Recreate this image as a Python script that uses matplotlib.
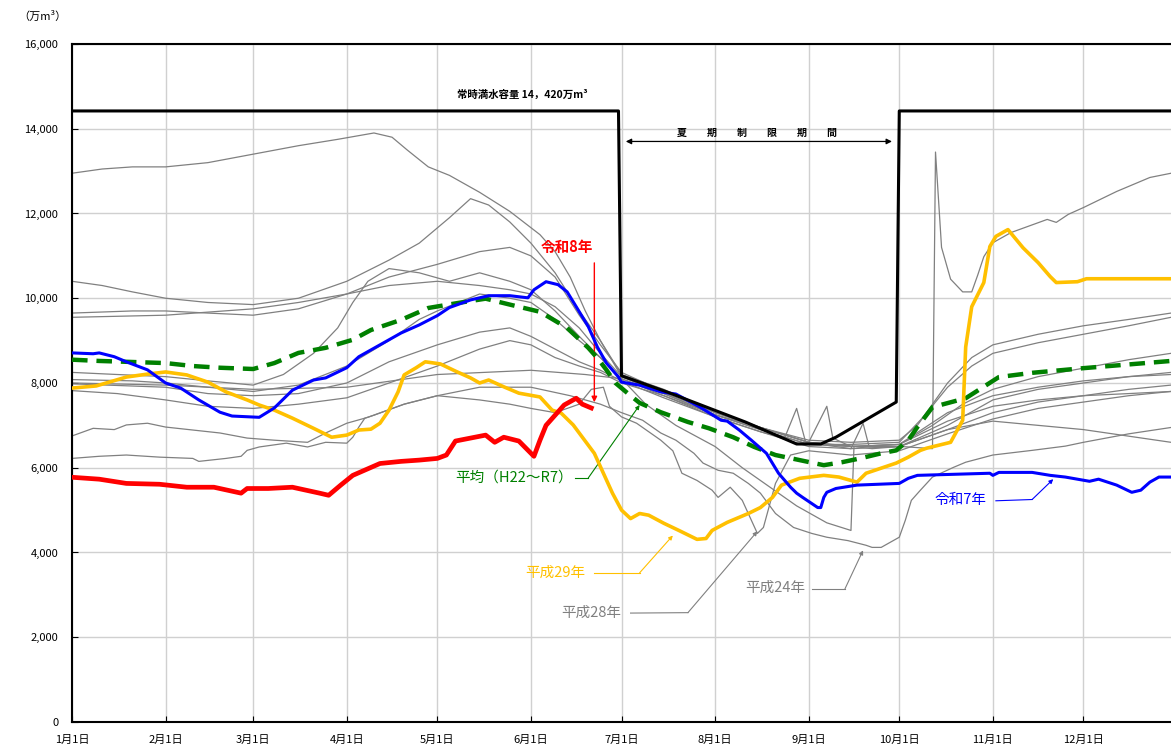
import matplotlib
matplotlib.use("Agg")
import matplotlib.pyplot as plt

plt.rcParams['font.family'] = ['Noto Sans CJK JP', 'DejaVu Sans']

# day of year (leap-year calendar, 1/1 = 0)
month_days = [0, 31, 60, 91, 121, 152, 182, 213, 244, 274, 305, 335]
month_labels = ["1月1日", "2月1日", "3月1日", "4月1日", "5月1日", "6月1日",
                "7月1日", "8月1日", "9月1日", "10月1日", "11月1日", "12月1日"]

# 常時満水容量 / 夏期制限容量
limit_day = [0, 181, 182, 197, 223, 240, 248, 253, 273, 274, 364]
limit_val = [14420, 14420, 8170, 7790, 7080, 6560, 6560, 6720, 7550, 14420, 14420]

# 平均 (H22～R7)
avg_day = [0, 9, 18, 31, 40, 49, 60, 67, 75, 84, 93, 99, 109, 118, 128, 137, 145, 155,
           164, 171, 174, 177, 180, 184, 188, 195, 204, 211, 219, 226, 233, 241, 249,
           255, 261, 268, 273, 277, 280, 285, 296, 307, 318, 335, 364]
avg_val = [8550, 8520, 8500, 8470, 8400, 8360, 8330, 8470, 8710, 8830, 9020, 9250, 9490,
           9770, 9890, 9990, 9850, 9680, 9300, 8830, 8590, 8310, 8000, 7760, 7530, 7310,
           7080, 6930, 6720, 6490, 6300, 6180, 6060, 6130, 6220, 6340, 6410, 6650, 6960,
           7430, 7640, 8140, 8240, 8350, 8520]

# 令和8年
r8_day = [0, 9, 18, 29, 38, 47, 56, 58, 65, 73, 82, 85, 89, 93, 102, 109, 115, 121, 124,
          127, 132, 137, 140, 143, 148, 153, 155, 157, 160, 163, 167, 169, 172]
r8_val = [5775, 5730, 5630, 5610, 5540, 5540, 5400, 5510, 5510, 5540, 5400, 5350, 5590,
          5820, 6100, 6150, 6180, 6220, 6300, 6630, 6700, 6770, 6600, 6720, 6630, 6270,
          6650, 7000, 7240, 7480, 7640, 7500, 7410]

# 令和7年
r7_day = [0, 7, 9, 14, 18, 25, 31, 36, 42, 49, 53, 62, 67, 73, 80, 84, 91, 95, 102, 109,
          115, 121, 125, 132, 138, 145, 151, 153, 157, 161, 164, 167, 171, 174, 177, 181,
          182, 188, 195, 200, 208, 215, 217, 221, 225, 230, 234, 238, 240, 242, 247, 248,
          249, 250, 253, 260, 267, 274, 277, 280, 304, 305, 307, 318, 324, 329, 337, 340,
          346, 351, 354, 357, 360, 364]
r7_val = [8710, 8690, 8710, 8620, 8500, 8310, 8000, 7880, 7600, 7310, 7220, 7190, 7410,
          7830, 8070, 8120, 8360, 8620, 8900, 9180, 9370, 9590, 9780, 9960, 10060, 10060,
          10010, 10200, 10390, 10320, 10150, 9800, 9330, 8850, 8470, 8140, 8020, 7950,
          7790, 7740, 7430, 7120, 7100, 6890, 6650, 6340, 5870, 5540, 5400, 5300, 5060,
          5060, 5300, 5420, 5510, 5590, 5610, 5630, 5750, 5820, 5870, 5820, 5890, 5890,
          5820, 5780, 5680, 5730, 5590, 5420, 5470, 5660, 5780, 5780]

# 平成29年
h29_day = [0, 8, 18, 25, 31, 38, 45, 51, 58, 62, 67, 73, 80, 86, 91, 95, 99, 102, 105,
           108, 110, 114, 117, 122, 127, 132, 135, 138, 143, 148, 155, 159, 162, 166, 173,
           176, 179, 182, 185, 188, 191, 196, 201, 207, 210, 212, 217, 224, 228, 232, 235,
           241, 249, 254, 260, 263, 268, 273, 277, 281, 283, 291, 295, 296, 298, 302, 304,
           306, 310, 315, 320, 324, 326, 333, 336, 364]
h29_val = [7880, 7930, 8140, 8210, 8260, 8190, 8020, 7790, 7600, 7480, 7360, 7170, 6930,
           6720, 6770, 6890, 6910, 7050, 7360, 7790, 8190, 8360, 8500, 8450, 8280, 8120,
           8000, 8070, 7910, 7760, 7670, 7360, 7290, 7010, 6340, 5870, 5400, 5000, 4800,
           4920, 4880, 4690, 4520, 4310, 4330, 4520, 4710, 4920, 5060, 5300, 5590, 5750,
           5820, 5780, 5660, 5870, 5990, 6110, 6250, 6410, 6460, 6600, 7120, 8850, 9800,
           10370, 11220, 11460, 11620, 11190, 10840, 10510, 10370, 10390, 10460, 10460]

# 平成28年
h28_day = [0, 7, 14, 18, 25, 31, 40, 49, 58, 67, 78, 84, 91, 98, 110, 121, 135, 145, 152,
           160, 168, 172, 176, 178, 182, 187, 195, 199, 202, 207, 212, 214, 218, 222, 227,
           229, 233, 238, 244, 258, 274, 290, 305, 320, 335, 350, 364]
h28_val = [6750, 6930, 6900, 7010, 7050, 6960, 6890, 6820, 6700, 6650, 6600, 6820, 7050,
           7190, 7500, 7700, 7600, 7500, 7400, 7300, 7500, 7850, 7900, 7450, 7200, 7050,
           6650, 6400, 5870, 5700, 5470, 5300, 5540, 5230, 4450, 4590, 5630, 6300, 6400,
           6300, 6400, 6800, 7150, 7400, 7550, 7700, 7800]

# 平成24年
h24_day = [0, 9, 18, 29, 40, 42, 51, 56, 58, 62, 71, 78, 84, 91, 93, 95, 97, 100, 110,
           121, 135, 152, 165, 175, 182, 189, 195, 200, 206, 209, 214, 219, 224, 228, 233,
           239, 245, 250, 257, 263, 265, 268, 272, 274, 276, 278, 281, 285, 292, 296, 305,
           318, 329, 335, 350, 364]
h24_val = [6220, 6270, 6300, 6250, 6220, 6150, 6220, 6270, 6410, 6490, 6580, 6490, 6600,
           6580, 6720, 6960, 7170, 7240, 7500, 7700, 7900, 7900, 7700, 7500, 7300, 7120,
           6820, 6650, 6340, 6110, 5940, 5870, 5630, 5400, 4920, 4590, 4450, 4360, 4280,
           4170, 4120, 4120, 4280, 4360, 4760, 5230, 5470, 5780, 6010, 6130, 6300, 6410,
           6510, 6600, 6800, 6950]

# その他の年
yr_a_day = [0, 10, 20, 31, 45, 60, 75, 88, 100, 106, 111, 118, 125, 135, 145, 155, 160,
            165, 170, 175, 182, 195, 213, 228, 244, 260, 275, 285, 286, 288, 291, 295, 298,
            300, 302, 305, 311, 323, 326, 330, 335, 346, 357, 364]
yr_a_val = [12950, 13050, 13100, 13100, 13200, 13400, 13600, 13750, 13900, 13800, 13500,
            13100, 12900, 12500, 12050, 11500, 11100, 10500, 9700, 9000, 8150, 7800, 7300,
            6950, 6600, 6500, 6500, 6450, 13450, 11200, 10450, 10150, 10150, 10550, 10980,
            11310, 11550, 11860, 11790, 11980, 12140, 12520, 12850, 12950]

yr_b_day = [0, 10, 20, 31, 45, 60, 75, 91, 105, 115, 125, 132, 138, 145, 152, 160, 168,
            175, 182, 196, 213, 228, 244, 258, 274, 285, 295, 305, 320, 335, 350, 364]
yr_b_val = [10400, 10300, 10150, 10000, 9900, 9850, 10000, 10400, 10900, 11300, 11900,
            12350, 12200, 11800, 11300, 10600, 9700, 9000, 8200, 7850, 7300, 6950, 6600,
            6500, 6550, 7000, 7500, 7850, 8150, 8350, 8550, 8700]

yr_c_day = [0, 20, 31, 45, 60, 75, 91, 105, 121, 135, 145, 152, 160, 168, 175, 182, 196,
            213, 228, 244, 258, 274, 280, 290, 298, 305, 320, 335, 350, 364]
yr_c_val = [9650, 9700, 9700, 9650, 9600, 9750, 10100, 10500, 10800, 11100, 11200, 11000,
            10500, 9600, 8900, 8250, 7800, 7350, 6950, 6650, 6600, 6650, 7000, 8000, 8600,
            8900, 9150, 9350, 9500, 9650]

yr_d_day = [0, 31, 60, 75, 91, 105, 121, 135, 145, 152, 160, 168, 175, 182, 196, 213, 228,
            244, 258, 274, 282, 290, 298, 305, 320, 335, 350, 364]
yr_d_val = [9550, 9600, 9750, 9900, 10100, 10300, 10400, 10300, 10200, 10100, 9800, 9300,
            8700, 8150, 7750, 7250, 6900, 6550, 6550, 6600, 7200, 7900, 8400, 8700, 8950,
            9150, 9350, 9550]

yr_e_day = [0, 15, 31, 45, 60, 70, 80, 88, 93, 98, 105, 115, 125, 135, 145, 152, 160, 168,
            175, 182, 196, 213, 228, 236, 240, 243, 258, 274, 290, 305, 320, 335, 350, 364]
yr_e_val = [8250, 8200, 8150, 8050, 7950, 8200, 8700, 9300, 9900, 10400, 10700, 10600,
            10400, 10600, 10400, 10200, 9700, 9100, 8600, 8100, 7700, 7200, 6850, 6700,
            7400, 6600, 6450, 6500, 7000, 7600, 7850, 8000, 8150, 8250]

yr_f_day = [0, 20, 31, 45, 60, 75, 91, 105, 115, 121, 135, 145, 152, 160, 168, 175, 182,
            196, 213, 228, 244, 250, 252, 258, 274, 290, 305, 320, 335, 350, 364]
yr_f_val = [8080, 8050, 8000, 7900, 7800, 7950, 8400, 9000, 9500, 9700, 10100, 10000, 9900,
            9500, 9000, 8600, 8100, 7750, 7250, 6950, 6600, 7450, 6700, 6500, 6550, 7300,
            7700, 7900, 8050, 8150, 8200]

yr_g_day = [0, 31, 45, 60, 75, 91, 105, 121, 135, 145, 152, 160, 168, 175, 182, 196, 213,
            228, 244, 258, 262, 264, 274, 290, 305, 320, 335, 350, 364]
yr_g_val = [7980, 7900, 7750, 7700, 7750, 8000, 8500, 8900, 9200, 9300, 9100, 8800, 8500,
            8300, 8050, 7650, 7200, 6850, 6500, 6450, 7050, 6500, 6500, 6900, 7300, 7550,
            7700, 7850, 7950]

yr_h_day = [0, 15, 31, 45, 60, 75, 91, 105, 121, 135, 145, 152, 160, 168, 175, 182, 196,
            213, 228, 244, 258, 274, 290, 305, 320, 335, 350, 364]
yr_h_val = [7820, 7750, 7600, 7450, 7400, 7500, 7650, 8000, 8400, 8800, 9000, 8900, 8600,
            8400, 8250, 8000, 7700, 7250, 6900, 6550, 6500, 6550, 7100, 7450, 7600, 7700,
            7750, 7800]

yr_i_day = [0, 31, 60, 91, 121, 152, 170, 182, 190, 200, 213, 222, 230, 240, 250, 258, 259,
            265, 274, 290, 305, 335, 364]
yr_i_val = [8000, 7950, 7850, 7900, 8200, 8300, 8200, 8100, 7500, 7000, 6500, 6000, 5600,
            5100, 4700, 4520, 6500, 6450, 6500, 6900, 7100, 6900, 6600]

past_years = [(yr_a_day, yr_a_val), (yr_b_day, yr_b_val), (yr_c_day, yr_c_val),
              (yr_d_day, yr_d_val), (yr_e_day, yr_e_val), (yr_f_day, yr_f_val),
              (yr_g_day, yr_g_val), (yr_h_day, yr_h_val), (yr_i_day, yr_i_val),
              (h28_day, h28_val), (h24_day, h24_val)]

fig = plt.figure(figsize=(11.71, 7.47), dpi=100)
ax = fig.add_axes([0.0615, 0.0335, 0.9385, 0.9076])

for d, v in past_years:
    ax.plot(d, v, color="#808080", lw=0.9, zorder=2)

ax.plot(avg_day, avg_val, color="#008000", lw=3.2, ls=(0, (3.5, 2)), zorder=4)
ax.plot(h29_day, h29_val, color="#ffc000", lw=2.6, zorder=4)
ax.plot(r7_day, r7_val, color="#0000ff", lw=2.2, zorder=5)
ax.plot(limit_day, limit_val, color="black", lw=2.2, zorder=6)
ax.plot(r8_day, r8_val, color="#ff0000", lw=3.4, zorder=7)

ax.set_xlim(0, 364)
ax.set_ylim(0, 16000)
ax.set_xticks(month_days)
ax.set_xticklabels(month_labels, fontsize=8)
ax.set_yticks(range(0, 16001, 2000))
ax.set_yticklabels([f"{v:,}" for v in range(0, 16001, 2000)], fontsize=8)
ax.tick_params(direction="in", length=4, width=0.8)
ax.tick_params(axis="x", pad=9)
ax.tick_params(axis="y", pad=10)
ax.grid(True, color="#d0d0d0", lw=1)
ax.set_axisbelow(True)
for s in ["left", "bottom", "top"]:
    ax.spines[s].set_linewidth(1.5)
ax.spines["right"].set_visible(False)

fig.text(0.016, 0.978, "（万m³）", fontsize=8, va="center")

ax.text(149, 14800, "常時満水容量 14，420万m³", fontsize=7.5, fontweight="bold",
        ha="center", va="center")
ax.text(227, 13900, "夏　　期　　制　　限　　期　　間", fontsize=7.2, fontweight="bold",
        ha="center", va="center")
ax.annotate("", xy=(182.5, 13700), xytext=(272.5, 13700),
            arrowprops=dict(arrowstyle="<|-|>", color="black", lw=0.9,
                            mutation_scale=8))

# labels with leader lines
ax.text(164, 11200, "令和8年", color="#ff0000", fontsize=10.5, fontweight="bold",
        ha="center", va="center")
ax.annotate("", xy=(173, 7480), xytext=(173, 10900),
            arrowprops=dict(arrowstyle="-|>", color="#ff0000", lw=1, mutation_scale=8))

ax.text(166, 5760, "平均（H22～R7）", color="#008000", fontsize=10.5, ha="right",
        va="center")
ax.plot([166.5, 171], [5760, 5760], color="#008000", lw=0.8)
ax.annotate("", xy=(188, 7480), xytext=(171, 5760),
            arrowprops=dict(arrowstyle="-|>", color="#008000", lw=0.8,
                            mutation_scale=6, shrinkA=0, shrinkB=0))

ax.text(170, 3520, "平成29年", color="#ffc000", fontsize=10.5, ha="right", va="center")
ax.plot([173, 188], [3520, 3520], color="#ffc000", lw=0.8)
ax.annotate("", xy=(199, 4400), xytext=(188, 3520),
            arrowprops=dict(arrowstyle="-|>", color="#ffc000", lw=0.8,
                            mutation_scale=6, shrinkA=0, shrinkB=0))

ax.text(182, 2570, "平成28年", color="#808080", fontsize=10.5, ha="right", va="center")
ax.plot([185, 204], [2570, 2580], color="#808080", lw=0.8)
ax.annotate("", xy=(227, 4500), xytext=(204, 2580),
            arrowprops=dict(arrowstyle="-|>", color="#808080", lw=0.8,
                            mutation_scale=6, shrinkA=0, shrinkB=0))

ax.text(243, 3160, "平成24年", color="#808080", fontsize=10.5, ha="right", va="center")
ax.plot([245, 256], [3140, 3140], color="#808080", lw=0.8)
ax.annotate("", xy=(262, 4050), xytext=(256, 3140),
            arrowprops=dict(arrowstyle="-|>", color="#808080", lw=0.8,
                            mutation_scale=6, shrinkA=0, shrinkB=0))

ax.text(303, 5250, "令和7年", color="#0000ff", fontsize=10.5, ha="right", va="center")
ax.plot([306, 318], [5220, 5250], color="#0000ff", lw=0.8)
ax.annotate("", xy=(325, 5730), xytext=(318, 5250),
            arrowprops=dict(arrowstyle="-|>", color="#0000ff", lw=0.8,
                            mutation_scale=6, shrinkA=0, shrinkB=0))

fig.savefig("out.png", dpi=100)
